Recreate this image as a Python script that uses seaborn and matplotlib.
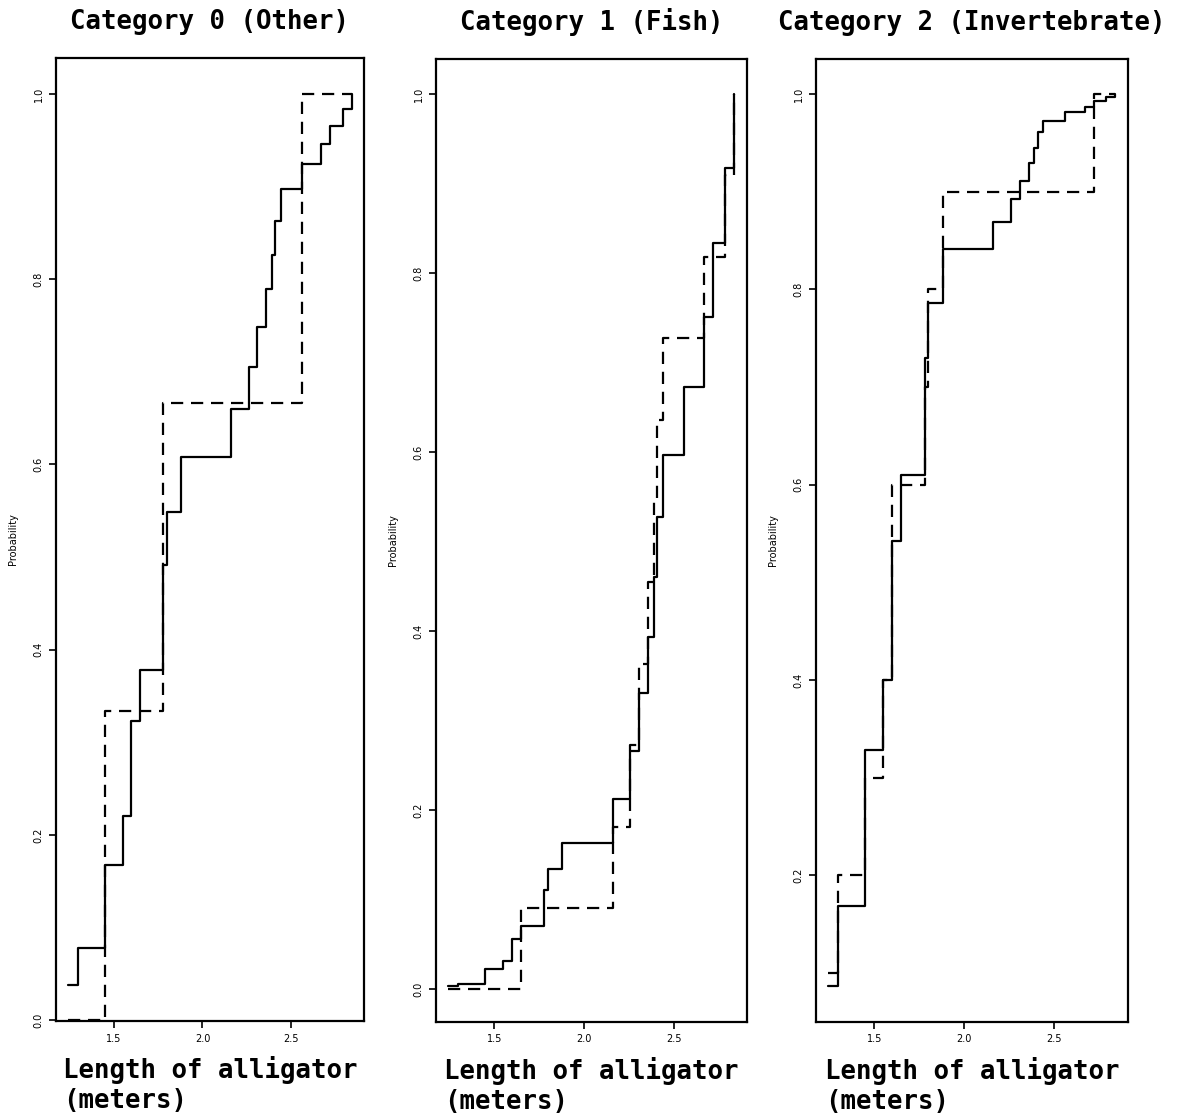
import numpy as np
import pandas as pd
import matplotlib
matplotlib.use("Agg")
import matplotlib.pyplot as plt
import seaborn as sns

# alligator lengths (meters) where the step functions jump
lengths = [1.24, 1.30, 1.45, 1.55, 1.60, 1.65, 1.78, 1.80, 1.88, 2.16, 2.26,
           2.31, 2.36, 2.39, 2.41, 2.44, 2.56, 2.67, 2.72, 2.79, 2.84]

# solid line (cumulative fitted probability)
other_solid = [0.038, 0.078, 0.168, 0.220, 0.323, 0.378, 0.492, 0.549, 0.608, 0.660, 0.705,
               0.749, 0.790, 0.826, 0.863, 0.898, 0.925, 0.946, 0.966, 0.984, 1.000]
fish_solid = [0.004, 0.006, 0.023, 0.032, 0.056, 0.071, 0.111, 0.134, 0.163, 0.212, 0.266,
              0.331, 0.393, 0.460, 0.528, 0.597, 0.673, 0.751, 0.834, 0.917, 1.000]
invert_solid = [0.087, 0.169, 0.328, 0.400, 0.542, 0.610, 0.730, 0.786, 0.841, 0.869, 0.893,
                0.911, 0.930, 0.945, 0.961, 0.973, 0.982, 0.987, 0.993, 0.997, 1.000]

# dashed line (empirical cumulative proportion)
other_dash_x = [1.24, 1.45, 1.78, 2.56, 2.84]
other_dash_y = [0.0, 1/3, 2/3, 1.0, 1.0]
fish_dash_x = [1.24, 1.65, 2.16, 2.26, 2.31, 2.36, 2.39, 2.41, 2.44, 2.67, 2.79, 2.84]
fish_dash_y = [0/11, 1/11, 2/11, 3/11, 4/11, 5/11, 6/11, 7/11, 8/11, 9/11, 10/11, 11/11]
invert_dash_x = [1.24, 1.30, 1.45, 1.55, 1.60, 1.78, 1.80, 1.88, 2.72, 2.84]
invert_dash_y = [0.1, 0.2, 0.3, 0.4, 0.6, 0.7, 0.8, 0.9, 1.0, 1.0]

titles = ["Category 0 (Other)", "Category 1 (Fish)", "Category 2 (Invertebrate)"]
ylims = [(-0.001, 1.039), (-0.0365, 1.039), (0.05, 1.036)]
yticks = [[0.0, 0.2, 0.4, 0.6, 0.8, 1.0], [0.0, 0.2, 0.4, 0.6, 0.8, 1.0], [0.2, 0.4, 0.6, 0.8, 1.0]]

rows = []
for cat, sy, dx, dy in zip(titles, [other_solid, fish_solid, invert_solid],
                           [other_dash_x, fish_dash_x, invert_dash_x],
                           [other_dash_y, fish_dash_y, invert_dash_y]):
    for x, y in zip(lengths, sy):
        rows.append((cat, "fitted", x, y))
    for x, y in zip(dx, dy):
        rows.append((cat, "observed", x, y))
df = pd.DataFrame(rows, columns=["category", "kind", "length", "prob"])

sns.set_style("white")
plt.rcParams.update({"text.color": "black", "axes.labelcolor": "black",
                     "xtick.color": "black", "ytick.color": "black"})
W, H = 1191, 1117
fig = plt.figure(figsize=(W / 100, H / 100), dpi=100)

boxes = [(56, 58, 364, 1021), (436, 59, 747, 1022), (816, 59, 1128, 1022)]
title_font = dict(family="DejaVu Sans Mono", weight="bold", size=18.5)

for i, (l, t, r, b) in enumerate(boxes):
    ax = fig.add_axes([l / W, (H - b) / H, (r - l) / W, (b - t) / H])
    sub = df[df["category"] == titles[i]]
    sns.lineplot(data=sub, x="length", y="prob", style="kind",
                 dashes={"fitted": "", "observed": (5.5, 3.5)},
                 color="black", linewidth=1.6, drawstyle="steps-post",
                 estimator=None, sort=True, legend=False, ax=ax)
    ax.set_xlim(1.175, 2.91)
    ax.set_ylim(*ylims[i])
    ax.set_xticks([1.5, 2.0, 2.5])
    ax.set_xticklabels(["1.5", "2.0", "2.5"], fontsize=7)
    ax.set_yticks(yticks[i])
    ax.set_yticklabels([f"{v:.1f}" for v in yticks[i]], fontsize=7, rotation=90, va="center")
    ax.tick_params(direction="out", length=5, width=1.2, color="black", pad=4, left=True, bottom=True)
    for s in ax.spines.values():
        s.set_color("black")
        s.set_linewidth(1.6)
    ax.set_title(titles[i], pad=21, **title_font)
    ax.set_xlabel("Length of alligator\n(meters)", multialignment="left",
                  labelpad=9, linespacing=1.2, **title_font)
    ax.set_ylabel("Probability", fontsize=7)
    ax.yaxis.set_label_coords(-38 / (r - l), 0.5)

fig.savefig("out.png", dpi=100)
